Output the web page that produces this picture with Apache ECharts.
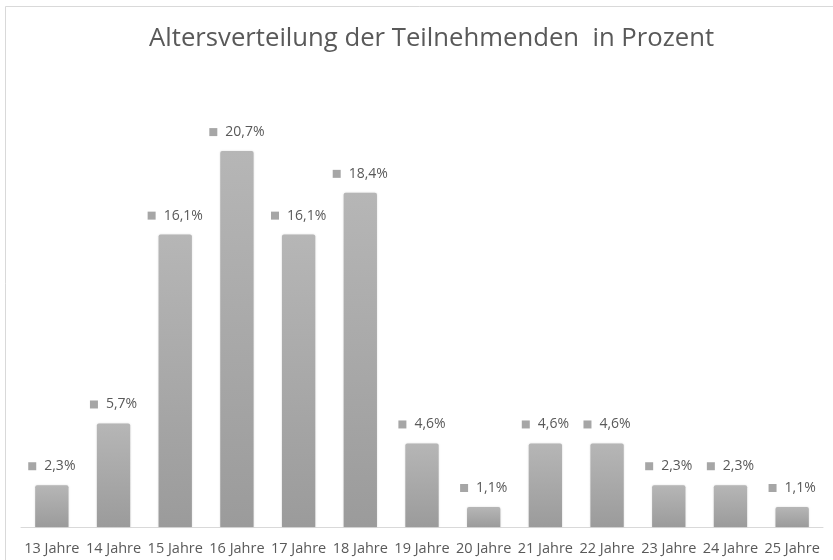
<!DOCTYPE html>
<html>
<head>
<meta charset="utf-8">
<script src="https://cdn.jsdelivr.net/npm/echarts@6/dist/echarts.min.js"></script>
<style>
html,body{margin:0;padding:0;background:#fff;}
#c{width:833px;height:560px;}
</style>
</head>
<body>
<div id="c"></div>
<script>
const categories = ["13 Jahre","14 Jahre","15 Jahre","16 Jahre","17 Jahre","18 Jahre","19 Jahre","20 Jahre","21 Jahre","22 Jahre","23 Jahre","24 Jahre","25 Jahre"];
const values = [2.3, 5.7, 16.1, 20.7, 16.1, 18.4, 4.6, 1.1, 4.6, 4.6, 2.3, 2.3, 1.1];
const titleText = "Altersverteilung der Teilnehmenden  in Prozent";

const chart = echarts.init(document.getElementById('c'));
const font = 'Open Sans';
chart.setOption({
  animation: false,
  backgroundColor: '#fff',
  title: {
    text: titleText,
    left: 144,
    top: 21,
    textStyle: {fontFamily: font, fontSize: 25.7, fontWeight: 'normal', color: '#595959'}
  },
  graphic: [{
    type: 'rect', silent: true,
    shape: {x: 5.5, y: 6.5, width: 900, height: 700},
    style: {fill: 'none', stroke: '#d9d9d9', lineWidth: 1}
  }],
  grid: {left: 21, right: 10, top: 73, bottom: 33},
  xAxis: {
    type: 'category',
    data: categories,
    axisLine: {lineStyle: {color: '#d9d9d9'}},
    axisTick: {show: false},
    axisLabel: {fontFamily: font, fontSize: 14.5, color: '#595959', margin: 14, interval: 0}
  },
  yAxis: {
    type: 'value', min: 0, max: 25,
    show: false,
    splitLine: {show: false}
  },
  series: [{
    type: 'bar',
    data: values,
    barWidth: '54%',
    itemStyle: {
      borderRadius: [2, 2, 0, 0],
      color: new echarts.graphic.LinearGradient(0, 0, 0, 1, [
        {offset: 0, color: '#b6b6b6'},
        {offset: 1, color: '#9b9b9b'}
      ]),
      shadowColor: 'rgba(0,0,0,0.15)', shadowBlur: 2
    },
    label: {
      show: true, position: 'top', distance: 12,
      formatter: p => '{sq| }{t|' + p.value.toFixed(1).replace('.', ',') + '%}',
      fontFamily: font, fontSize: 14, color: '#595959',
      rich: {
        sq: {width: 8, height: 8, backgroundColor: '#a6a6a6', fontSize: 4},
        t: {fontFamily: font, fontSize: 14, color: '#595959', padding: [0, 0, 0, 8]}
      }
    }
  }]
});
</script>
</body>
</html>
